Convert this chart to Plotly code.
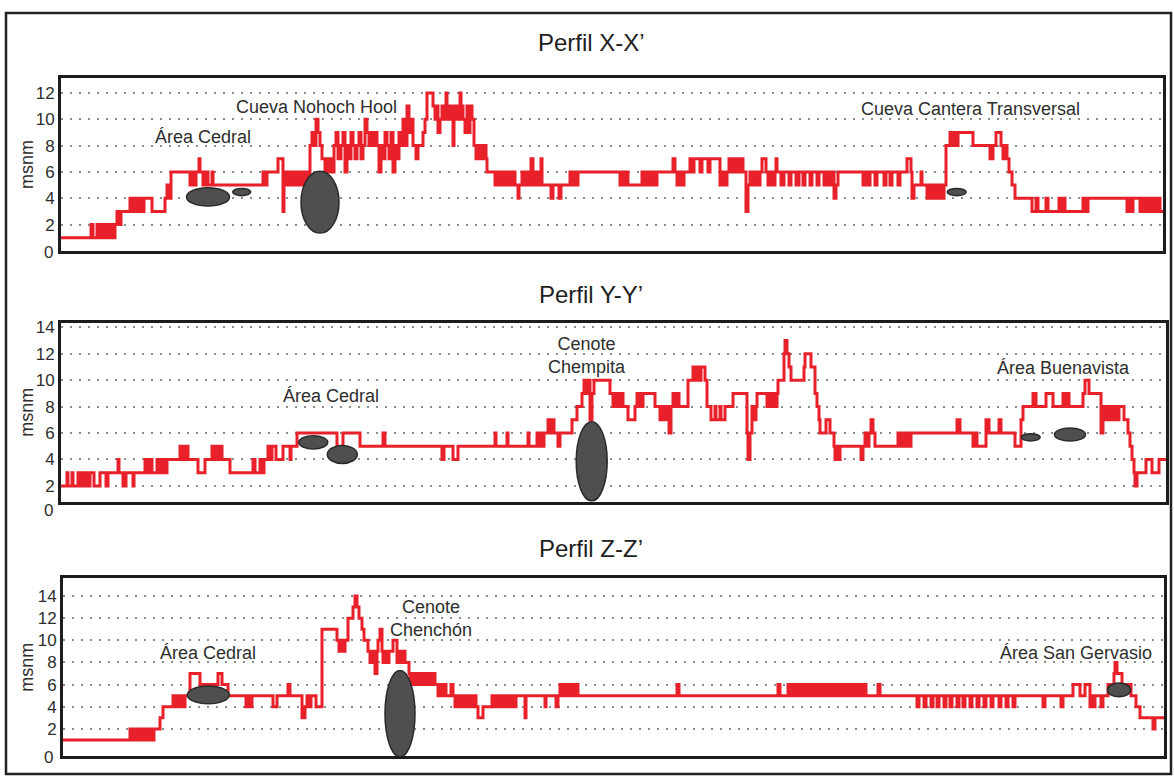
import plotly.graph_objects as go

# ---------------- Profile data: (distance along profile, elevation in msnm) ----------------
profile_x = [
    (61, 1), (91, 2), (93, 1), (97, 2), (99, 1), (102, 2), (104, 1), (106, 2), (108, 1), (111, 2),
    (113, 1), (115, 2), (117, 3), (119, 2), (121, 3), (130, 4), (132, 3), (134, 4), (137, 3), (139, 4),
    (142, 3), (144, 4), (152, 3), (165, 4), (167, 5), (169, 4), (171, 6), (190, 5), (192, 6), (194, 5),
    (196, 6), (199, 7), (200, 6), (203, 5), (205, 6), (208, 5), (212, 6), (213, 5), (263, 6), (265, 5),
    (267, 6), (278, 7), (283, 3), (284, 5), (286, 6), (289, 5), (291, 6), (294, 5), (296, 6), (299, 5),
    (301, 6), (304, 5), (306, 6), (308, 5), (310, 8), (312, 9), (314, 8), (316, 10), (318, 9), (320, 8),
    (322, 7), (325, 6), (327, 7), (329, 6), (331, 7), (333, 6), (334, 8), (336, 9), (338, 7), (341, 8),
    (343, 9), (345, 6), (347, 8), (349, 7), (351, 9), (353, 8), (355, 7), (357, 8), (359, 9), (361, 7),
    (363, 8), (365, 10), (367, 9), (369, 8), (371, 9), (373, 8), (375, 9), (377, 8), (379, 6), (381, 8),
    (383, 7), (385, 9), (387, 8), (389, 7), (391, 9), (393, 6), (395, 8), (397, 7), (399, 9), (401, 8),
    (403, 10), (405, 8), (407, 11), (409, 9), (411, 10), (413, 8), (416, 7), (418, 8), (423, 9), (425, 10),
    (427, 12), (433, 11), (435, 10), (437, 11), (438, 9), (440, 10), (442, 11), (444, 10), (446, 12), (447, 11),
    (449, 10), (451, 11), (453, 8), (454, 10), (456, 11), (458, 10), (460, 12), (461, 11), (463, 10), (465, 9),
    (467, 11), (469, 9), (470, 11), (472, 10), (474, 8), (476, 7), (479, 8), (481, 7), (484, 8), (486, 7),
    (487, 6), (495, 5), (498, 6), (500, 5), (503, 6), (506, 5), (508, 6), (511, 5), (513, 6), (515, 5),
    (518, 4), (519, 5), (522, 6), (524, 5), (527, 6), (529, 5), (531, 7), (533, 5), (536, 6), (538, 5),
    (541, 7), (542, 5), (551, 4), (553, 5), (559, 4), (561, 5), (570, 6), (572, 5), (575, 6), (577, 5),
    (578, 6), (620, 5), (623, 6), (625, 5), (627, 6), (628, 5), (642, 6), (645, 5), (647, 6), (650, 5),
    (652, 6), (655, 5), (657, 6), (673, 7), (675, 6), (677, 5), (680, 6), (682, 5), (684, 6), (690, 7),
    (692, 6), (694, 7), (700, 6), (702, 7), (708, 6), (710, 7), (720, 5), (722, 6), (725, 5), (727, 6),
    (729, 7), (731, 6), (733, 7), (735, 6), (737, 7), (739, 6), (741, 7), (743, 6), (746, 3), (748, 5),
    (750, 6), (753, 5), (755, 6), (758, 5), (760, 6), (762, 7), (766, 6), (768, 5), (771, 6), (773, 5),
    (775, 6), (776, 7), (777, 6), (781, 5), (784, 6), (789, 5), (791, 6), (796, 5), (799, 6), (803, 5),
    (805, 6), (810, 5), (812, 6), (817, 5), (819, 6), (824, 5), (826, 6), (829, 5), (831, 6), (834, 4),
    (836, 5), (838, 6), (863, 5), (865, 6), (868, 5), (870, 6), (875, 5), (877, 6), (884, 5), (886, 6),
    (890, 5), (892, 6), (898, 5), (900, 6), (907, 7), (911, 6), (912, 4), (914, 5), (921, 6), (922, 5),
    (927, 4), (929, 5), (931, 4), (933, 5), (935, 4), (938, 5), (941, 4), (944, 5), (946, 8), (950, 9),
    (952, 8), (954, 9), (956, 8), (958, 9), (973, 8), (990, 7), (993, 8), (996, 9), (1001, 8), (1003, 7),
    (1005, 8), (1007, 7), (1009, 6), (1012, 5), (1015, 4), (1032, 3), (1036, 4), (1038, 3), (1046, 4), (1048, 3),
    (1059, 4), (1061, 3), (1063, 4), (1065, 3), (1083, 4), (1086, 3), (1088, 4), (1127, 3), (1129, 4), (1131, 3),
    (1133, 4), (1140, 3), (1142, 4), (1145, 3), (1147, 4), (1150, 3), (1152, 4), (1155, 3), (1157, 4), (1160, 3),
    (1163, 3),
]

profile_y = [
    (61, 2), (67, 3), (68, 2), (72, 3), (73, 2), (78, 3), (80, 2), (83, 3), (84, 2), (86, 3),
    (88, 2), (90, 3), (94, 2), (100, 3), (106, 2), (108, 3), (118, 4), (119, 3), (123, 2), (126, 3),
    (133, 2), (134, 3), (145, 4), (147, 3), (150, 4), (152, 3), (157, 4), (159, 3), (162, 4), (164, 3),
    (167, 4), (180, 5), (183, 4), (186, 5), (188, 4), (198, 3), (205, 4), (212, 5), (214, 4), (217, 5),
    (219, 4), (221, 5), (222, 4), (230, 3), (253, 4), (255, 3), (260, 4), (262, 3), (264, 4), (268, 5),
    (270, 4), (272, 5), (276, 4), (283, 5), (290, 4), (291, 5), (297, 6), (337, 5), (343, 6), (360, 5),
    (383, 6), (385, 5), (442, 4), (444, 5), (453, 4), (458, 5), (495, 6), (496, 5), (507, 6), (508, 5),
    (528, 6), (529, 5), (537, 6), (538, 5), (540, 6), (542, 5), (544, 6), (548, 7), (550, 6), (552, 7),
    (554, 6), (558, 5), (560, 6), (572, 7), (577, 8), (582, 9), (584, 10), (586, 9), (588, 10), (590, 7),
    (592, 9), (594, 10), (610, 9), (613, 8), (615, 9), (618, 8), (620, 9), (623, 8), (628, 7), (635, 8),
    (637, 9), (640, 8), (643, 9), (655, 8), (660, 7), (662, 8), (664, 7), (666, 8), (669, 6), (671, 8),
    (673, 9), (675, 8), (677, 9), (679, 8), (688, 10), (693, 11), (695, 10), (697, 11), (699, 10), (701, 11),
    (705, 10), (707, 8), (711, 7), (715, 8), (716, 7), (720, 8), (721, 7), (725, 8), (733, 9), (747, 6),
    (748, 4), (750, 6), (752, 8), (754, 7), (756, 8), (757, 9), (767, 8), (769, 9), (771, 8), (773, 9),
    (775, 8), (777, 9), (778, 10), (784, 12), (785, 13), (787, 12), (789, 11), (791, 10), (804, 11), (805, 12),
    (811, 11), (815, 9), (817, 8), (819, 7), (820, 6), (826, 7), (830, 6), (834, 5), (835, 4), (837, 5),
    (839, 4), (840, 5), (861, 4), (863, 5), (865, 6), (867, 5), (869, 6), (871, 7), (873, 6), (875, 5),
    (898, 6), (900, 5), (902, 6), (904, 5), (906, 6), (908, 5), (911, 6), (957, 7), (960, 6), (973, 5),
    (975, 6), (977, 5), (986, 7), (989, 6), (999, 7), (1001, 6), (1015, 5), (1021, 7), (1023, 8), (1033, 9),
    (1036, 8), (1046, 9), (1053, 8), (1063, 9), (1065, 8), (1068, 9), (1069, 8), (1083, 9), (1085, 10), (1089, 9),
    (1101, 6), (1103, 8), (1105, 7), (1107, 8), (1109, 7), (1111, 8), (1113, 7), (1115, 8), (1117, 7), (1119, 8),
    (1124, 7), (1128, 6), (1130, 5), (1132, 4), (1134, 3), (1135, 2), (1137, 3), (1146, 4), (1152, 3), (1159, 4),
    (1166, 4),
]

profile_z = [
    (63, 1), (130, 2), (132, 1), (134, 2), (136, 1), (138, 2), (140, 1), (142, 2), (144, 1), (146, 2),
    (148, 1), (150, 2), (152, 1), (154, 2), (160, 3), (163, 4), (173, 5), (175, 4), (177, 5), (179, 4),
    (181, 5), (183, 4), (185, 5), (190, 7), (200, 6), (218, 7), (222, 6), (228, 5), (246, 4), (248, 5),
    (250, 4), (252, 5), (273, 4), (277, 5), (288, 6), (290, 5), (302, 3), (305, 4), (307, 5), (309, 4),
    (311, 5), (316, 4), (322, 11), (337, 10), (339, 9), (341, 10), (343, 9), (345, 10), (348, 12), (353, 13),
    (355, 14), (357, 13), (359, 12), (362, 11), (364, 10), (368, 9), (370, 8), (372, 9), (374, 8), (375, 7),
    (377, 9), (378, 10), (380, 11), (382, 9), (383, 8), (385, 9), (387, 8), (389, 9), (393, 10), (397, 8),
    (399, 9), (401, 8), (403, 9), (405, 8), (409, 7), (410, 6), (413, 7), (415, 6), (418, 7), (420, 6),
    (423, 7), (425, 6), (428, 7), (430, 6), (433, 7), (435, 6), (438, 5), (440, 6), (443, 5), (445, 6),
    (446, 5), (451, 6), (453, 5), (455, 4), (458, 5), (461, 4), (463, 5), (466, 4), (468, 5), (471, 4),
    (473, 5), (476, 4), (478, 3), (483, 4), (492, 5), (494, 4), (497, 5), (499, 4), (502, 5), (504, 4),
    (507, 5), (509, 4), (512, 5), (514, 4), (516, 5), (525, 3), (526, 5), (545, 4), (546, 5), (556, 4),
    (558, 5), (560, 6), (563, 5), (565, 6), (568, 5), (570, 6), (573, 5), (575, 6), (578, 5), (677, 6),
    (679, 5), (778, 6), (780, 5), (788, 6), (790, 5), (793, 6), (795, 5), (798, 6), (800, 5), (803, 6),
    (805, 5), (808, 6), (810, 5), (813, 6), (815, 5), (818, 6), (820, 5), (823, 6), (825, 5), (828, 6),
    (830, 5), (833, 6), (835, 5), (838, 6), (840, 5), (843, 6), (845, 5), (848, 6), (850, 5), (853, 6),
    (855, 5), (858, 6), (860, 5), (863, 6), (866, 5), (878, 6), (880, 5), (917, 4), (919, 5), (924, 4),
    (926, 5), (931, 4), (933, 5), (937, 4), (939, 5), (944, 4), (946, 5), (950, 4), (952, 5), (957, 4),
    (959, 5), (963, 4), (965, 5), (970, 4), (972, 5), (977, 4), (979, 5), (984, 4), (986, 5), (991, 4),
    (993, 5), (999, 4), (1001, 5), (1006, 4), (1008, 5), (1013, 4), (1015, 5), (1043, 4), (1045, 5), (1061, 4),
    (1063, 5), (1073, 6), (1080, 5), (1085, 6), (1090, 4), (1092, 5), (1093, 4), (1095, 5), (1101, 4), (1103, 5),
    (1108, 6), (1114, 7), (1115, 8), (1117, 7), (1122, 6), (1131, 5), (1136, 4), (1140, 3), (1153, 2), (1155, 3),
    (1164, 3),
]

# Caves / cenotes marked under each profile: centre distance, centre elevation, width, height
caves_x = {"d": [208, 241.7, 320, 956.7], "z": [4.1, 4.47, 3.7, 4.47],
           "w": [43, 18, 38, 19], "h": [1.4, 0.55, 4.7, 0.55]}
caves_y = {"d": [313.3, 342.3, 591.7, 1030.7, 1070], "z": [5.3, 4.38, 3.86, 5.68, 5.89],
           "w": [29, 30, 31, 19, 31], "h": [1.0, 1.35, 6.0, 0.55, 1.0]}
caves_z = {"d": [208.3, 400, 1119], "z": [5.07, 3.37, 5.52],
           "w": [42, 30, 23], "h": [1.6, 7.8, 1.25]}

# Place names along each profile
labels_x = [("Área Cedral", 203, 8.64), ("Cueva Nohoch Hool", 316, 10.9),
            ("Cueva Cantera Transversal", 970, 10.75)]
labels_y = [("Área Cedral", 331, 8.84), ("Cenote<br>Chempita", 587, 11.9),
            ("Área Buenavista", 1063, 10.95)]
labels_z = [("Área Cedral", 207.5, 8.87), ("Cenote<br>Chenchón", 431, 11.96),
            ("Área San Gervasio", 1076, 8.87)]

titles = ["Perfil X-X’", "Perfil Y-Y’", "Perfil Z-Z’"]
y_ticks = [[2, 4, 6, 8, 10, 12], [2, 4, 6, 8, 10, 12, 14], [2, 4, 6, 8, 10, 12, 14]]

# ---------------- Layout geometry ----------------
W, H = 1174, 776
RED = "#e8202a"
INK = "#2e2e2e"

panels = [
    dict(profile=profile_x, caves=caves_x, labels=labels_x,
         box=(61, 1163, 73, 248), yr=[-0.04, 13.17], title_y=38, zero_y=249),
    dict(profile=profile_y, caves=caves_y, labels=labels_y,
         box=(61, 1166, 320, 500), yr=[0.8, 14.33], title_y=291, zero_y=509),
    dict(profile=profile_z, caves=caves_z, labels=labels_z,
         box=(63, 1164, 577, 756), yr=[-0.46, 15.6], title_y=547, zero_y=757),
]

fig = go.Figure()
layout = dict(width=W, height=H, margin=dict(l=0, r=0, t=0, b=0),
              paper_bgcolor="white", plot_bgcolor="white", showlegend=False,
              font=dict(family="Liberation Sans, Arial, sans-serif", color=INK))
annotations = []
shapes = []

for i, p in enumerate(panels):
    n = "" if i == 0 else str(i + 1)
    xa, ya = "x" + n, "y" + n
    x0, x1, ytop, ybot = p["box"]
    dist = [d for d, _ in p["profile"]]
    elev = [e for _, e in p["profile"]]

    fig.add_trace(go.Scatter(x=dist, y=elev, mode="lines", xaxis=xa, yaxis=ya,
                             line=dict(color=RED, width=3, shape="hv"), hoverinfo="skip"))

    layout["xaxis" + n] = dict(domain=[x0 / W, x1 / W], range=[x0, x1], showgrid=False,
                               showticklabels=False, zeroline=False, ticks="",
                               showline=True, linewidth=3, linecolor="#1c1c1c", mirror=True,
                               anchor=ya)
    layout["yaxis" + n] = dict(domain=[1 - ybot / H, 1 - ytop / H], range=p["yr"],
                               tickvals=y_ticks[i], ticks="", zeroline=False,
                               showgrid=True, gridcolor="#8c8c8c", gridwidth=1.5, griddash="2px,7px",
                               tickfont=dict(size=17, color=INK),
                               showline=True, linewidth=3, linecolor="#1c1c1c", mirror=True,
                               anchor=xa)

    # cave ellipses
    c = p["caves"]
    for d, z, w, h in zip(c["d"], c["z"], c["w"], c["h"]):
        shapes.append(dict(type="circle", xref=xa, yref=ya,
                           x0=d - w / 2, x1=d + w / 2, y0=z - h / 2, y1=z + h / 2,
                           fillcolor="#4f4f4f", line=dict(color="#2a2a2a", width=1.5)))

    # place names
    for txt, d, z in p["labels"]:
        annotations.append(dict(text=txt, x=d, y=z, xref=xa, yref=ya, showarrow=False,
                                xanchor="center", yanchor="middle",
                                font=dict(size=18, color=INK)))

    # panel title
    annotations.append(dict(text=titles[i], x=591 / W, y=1 - p["title_y"] / H, xref="paper",
                            yref="paper", showarrow=False, xanchor="center", yanchor="middle",
                            font=dict(size=24, color="#1e1e1e")))
    # axis title
    annotations.append(dict(text="msnm", x=27.5 / W, y=1 - (ytop + ybot) / 2 / H, xref="paper",
                            yref="paper", showarrow=False, textangle=-90,
                            xanchor="center", yanchor="middle", font=dict(size=18, color=INK)))
    # base tick label
    annotations.append(dict(text="0", x=55 / W, y=1 - p["zero_y"] / H, xref="paper",
                            yref="paper", showarrow=False, xanchor="right", yanchor="middle",
                            font=dict(size=17, color=INK)))

# outer frame
shapes.append(dict(type="rect", xref="paper", yref="paper", x0=6 / W, x1=1171 / W,
                   y0=1 - 774 / H, y1=1 - 8 / H, line=dict(color="#222222", width=2.5)))

layout["annotations"] = annotations
layout["shapes"] = shapes
fig.update_layout(**layout)
fig.write_html("out.html")
